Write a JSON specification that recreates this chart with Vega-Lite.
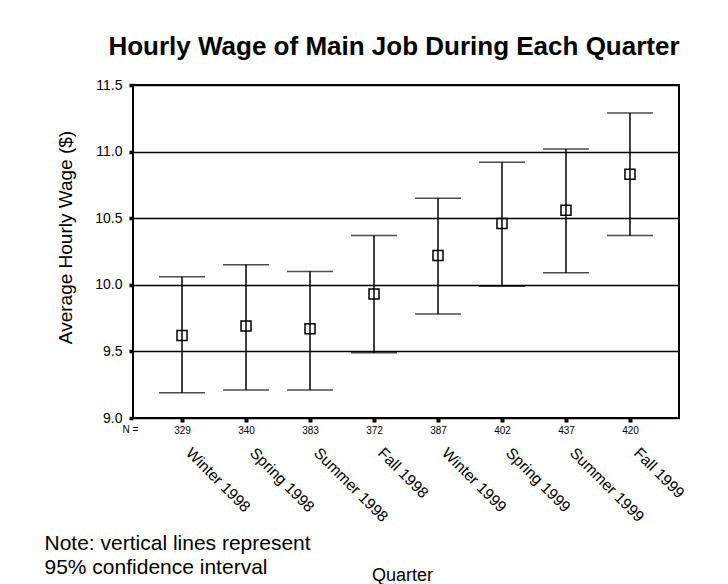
{
  "$schema": "https://vega.github.io/schema/vega-lite/v6.json",
  "width": 546,
  "height": 333,
  "autosize": {"type": "none"},
  "padding": {"left": 133, "top": 85, "right": 49, "bottom": 166},
  "background": "white",
  "title": {
    "text": "Hourly Wage of Main Job During Each Quarter",
    "font": "Liberation Sans",
    "fontSize": 26,
    "fontWeight": "bold",
    "color": "black",
    "anchor": "middle",
    "frame": "group",
    "dx": -12,
    "baseline": "alphabetic",
    "offset": -3
  },
  "data": {
    "values": [
      {"quarter": "Winter 1998", "n": 329, "mean": 9.62, "lo": 9.19, "hi": 10.06},
      {"quarter": "Spring 1998", "n": 340, "mean": 9.69, "lo": 9.21, "hi": 10.15},
      {"quarter": "Summer 1998", "n": 383, "mean": 9.67, "lo": 9.21, "hi": 10.10},
      {"quarter": "Fall 1998", "n": 372, "mean": 9.93, "lo": 9.49, "hi": 10.37},
      {"quarter": "Winter 1999", "n": 387, "mean": 10.22, "lo": 9.78, "hi": 10.65},
      {"quarter": "Spring 1999", "n": 402, "mean": 10.46, "lo": 9.99, "hi": 10.92},
      {"quarter": "Summer 1999", "n": 437, "mean": 10.56, "lo": 10.09, "hi": 11.02},
      {"quarter": "Fall 1999", "n": 420, "mean": 10.83, "lo": 10.37, "hi": 11.29}
    ]
  },
  "config": {
    "font": "Liberation Sans",
    "axis": {"labelFont": "Liberation Sans", "titleFont": "Liberation Sans"},
    "view": {"stroke": "black", "strokeWidth": 2}
  },
  "resolve": {"scale": {"x": "independent"}, "axis": {"y": "independent", "x": "independent"}},
  "layer": [
    {
      "layer": [
        {
          "mark": {"type": "rule", "color": "black", "strokeWidth": 1.5},
          "encoding": {
            "x": {
              "field": "quarter", "type": "nominal", "sort": null,
              "scale": {"type": "point", "padding": 0.766},
              "axis": {
                "orient": "bottom",
                "ticks": false,
                "domain": false,
                "grid": false,
                "labelAngle": 45,
                "labelAlign": "left",
                "labelBaseline": "top",
                "labelPadding": 27,
                "labelOffset": 11,
                "labelFontSize": 15.5,
                "labelColor": "black",
                "labelOverlap": false,
                "labelLimit": 0,
                "title": "Quarter",
                "titleFontSize": 18,
                "titleFontWeight": "normal",
                "titleColor": "black",
                "titleX": 269,
                "titleY": 162,
                "titleBaseline": "alphabetic",
                "titleAlign": "center"
              }
            },
            "y": {
              "field": "lo", "type": "quantitative",
              "title": "Average Hourly Wage ($)",
              "scale": {"domain": [9, 11.5], "nice": false, "zero": false},
              "axis": {
                "orient": "left",
                "values": [9, 9.5, 10, 10.5, 11, 11.5],
                "format": ".1f",
                "labelFontSize": 14,
                "labelColor": "black",
                "labelPadding": 7,
                "tickSize": 4,
                "tickWidth": 3.5,
                "tickColor": "black",
                "domain": false,
                "grid": true,
                "gridColor": "black",
                "gridWidth": 1.5,
                "gridOpacity": 1,
                "titleFontSize": 19,
                "titleFontWeight": "normal",
                "titleColor": "black",
                "titleAngle": -90,
                "titleX": -58,
                "titleY": 152,
                "titleBaseline": "bottom",
                "titleAlign": "center"
              }
            },
            "y2": {"field": "hi"}
          }
        },
        {
          "mark": {"type": "tick", "color": "black", "size": 46, "thickness": 1.5, "orient": "horizontal"},
          "encoding": {
            "x": {"field": "quarter", "type": "nominal", "sort": null},
            "y": {"field": "hi", "type": "quantitative", "title": "Average Hourly Wage ($)"}
          }
        },
        {
          "mark": {"type": "tick", "color": "black", "size": 46, "thickness": 1.5, "orient": "horizontal"},
          "encoding": {
            "x": {"field": "quarter", "type": "nominal", "sort": null},
            "y": {"field": "lo", "type": "quantitative", "title": "Average Hourly Wage ($)"}
          }
        }
      ]
    },
    {
      "mark": {"type": "point", "shape": "square", "size": 100, "filled": false, "color": "black", "strokeWidth": 1.5, "opacity": 1},
      "encoding": {
        "x": {
          "field": "n", "type": "ordinal", "sort": null,
          "scale": {"type": "point", "padding": 0.766},
          "axis": {
            "orient": "bottom",
            "domain": false,
            "grid": false,
            "labelAngle": 0,
            "labelFontSize": 10,
            "labelColor": "black",
            "labelPadding": 3,
            "labelBaseline": "top",
            "tickSize": 4,
            "tickWidth": 4,
            "tickColor": "black",
            "title": "N =",
            "titleFontSize": 10,
            "titleFontWeight": "normal",
            "titleColor": "black",
            "titleX": -3,
            "titleY": 14,
            "titleBaseline": "alphabetic",
            "titleAlign": "center"
          }
        },
        "y": {
          "field": "mean", "type": "quantitative",
          "axis": {
            "orient": "right",
            "labels": false,
            "ticks": false,
            "domain": false,
            "grid": false,
            "title": ["Note: vertical lines represent", "95% confidence interval"],
            "titleAngle": 0,
            "titleAlign": "left",
            "titleBaseline": "alphabetic",
            "titleX": -635,
            "titleY": 464,
            "titleFontSize": 21,
            "titleFontWeight": "normal",
            "titleColor": "black",
            "titleLineHeight": 24
          }
        }
      }
    }
  ]
}
